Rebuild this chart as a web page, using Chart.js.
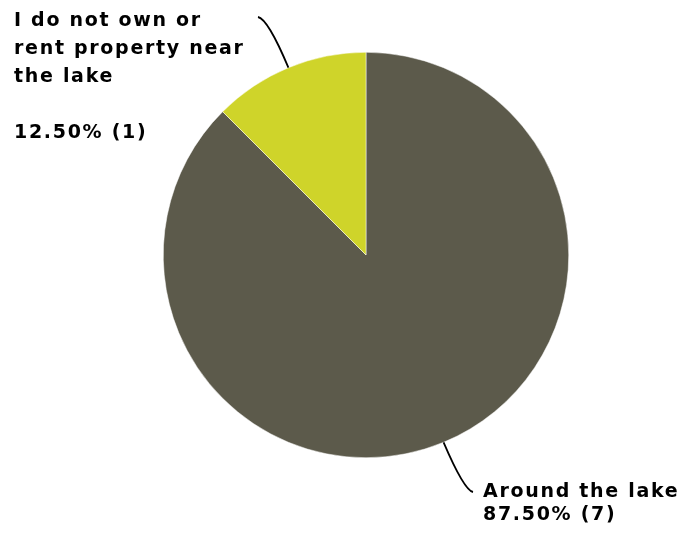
<!DOCTYPE html>
<html lang="en">
<head>
    <meta charset="UTF-8">
    <title>Property near the lake</title>
    <script src="https://cdn.jsdelivr.net/npm/chart.js"></script>
    <style>
        html, body { margin: 0; padding: 0; background: #fff; }
        #wrap { width: 686px; height: 536px; }
    </style>
</head>
<body>
    <div id="wrap"><canvas id="lakeChart"></canvas></div>

    <script>
        // Survey answers, clockwise from 12 o'clock
        const answers = ['Around the lake', 'I do not own or rent property near the lake'];
        const counts = [7, 1];
        const percents = [87.5, 12.5];
        const sliceColors = ['#5c5a4b', '#cfd42a'];

        // wrapped label lines for each slice (blank entry = empty line)
        const labelLines = [
            ['Around the lake', '87.50% (7)'],
            ['I do not own or', 'rent property near', 'the lake', '', '12.50% (1)']
        ];

        // callout placement per slice: where the text block starts and how the leader bends
        const callouts = [
            { textX: 483, textY: 497, lineH: 23, end: [473, 492], bend: [464, 490] },
            { textX: 14,  textY: 26,  lineH: 28, end: [258, 17], bend: [268, 19] }
        ];

        const calloutPlugin = {
            id: 'callouts',
            afterDatasetsDraw(chart) {
                const ctx = chart.ctx;
                const meta = chart.getDatasetMeta(0);
                ctx.save();
                meta.data.forEach((arc, i) => {
                    const mid = (arc.startAngle + arc.endAngle) / 2;
                    const sx = arc.x + Math.cos(mid) * arc.outerRadius;
                    const sy = arc.y + Math.sin(mid) * arc.outerRadius;
                    const c = callouts[i];

                    ctx.beginPath();
                    ctx.strokeStyle = '#000';
                    ctx.lineWidth = 1.8;
                    ctx.moveTo(sx, sy);
                    ctx.quadraticCurveTo(c.bend[0], c.bend[1], c.end[0], c.end[1]);
                    ctx.stroke();

                    ctx.fillStyle = '#000';
                    ctx.font = 'bold 19px "DejaVu Sans"';
                    ctx.letterSpacing = '1.7px';
                    ctx.textAlign = 'left';
                    ctx.textBaseline = 'alphabetic';
                    labelLines[i].forEach((line, k) => {
                        if (line) ctx.fillText(line, c.textX, c.textY + k * c.lineH);
                    });
                });
                ctx.restore();
            }
        };

        new Chart(document.getElementById('lakeChart'), {
            type: 'pie',
            data: {
                labels: answers,
                datasets: [{
                    data: counts,
                    backgroundColor: sliceColors,
                    borderColor: '#ffffff',
                    borderWidth: 0.5
                }]
            },
            options: {
                responsive: true,
                maintainAspectRatio: false,
                animation: false,
                layout: { padding: { top: 52, bottom: 78, left: 163, right: 117 } },
                plugins: {
                    legend: { display: false },
                    tooltip: { enabled: false }
                }
            },
            plugins: [calloutPlugin]
        });
    </script>
</body>
</html>
